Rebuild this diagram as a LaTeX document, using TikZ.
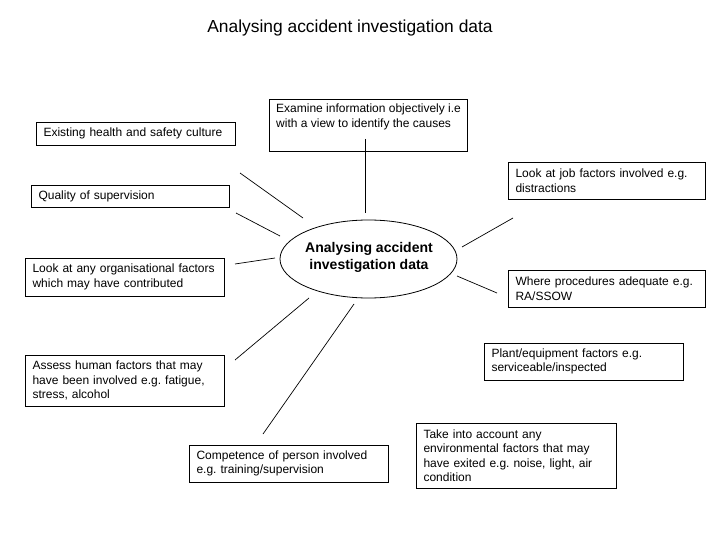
\documentclass[tikz,border=0pt]{standalone}
\usepackage{fontspec}
\setmainfont{Liberation Sans}
\usetikzlibrary{shapes.geometric}
\frenchspacing
\tikzset{
  infobox/.style n args={2}{draw=black, line width=0.8pt, rectangle, minimum width=#1pt, minimum height=#2pt,
    text width=#1pt-15pt, inner xsep=7.5pt, inner ysep=0pt, align=left,
    font=\fontsize{12}{14.5}\selectfont},
  conn/.style={draw=black, line width=0.7pt},
}
\begin{document}
\begin{tikzpicture}[x=1pt,y=-1pt]
\useasboundingbox[fill=white] (0,0) rectangle (720,540);

\node (title) at (350,28) {\fontsize{17.4}{20}\selectfont Analysing accident investigation data};

\node[draw=black, line width=0.8pt, ellipse, minimum width=177pt, minimum height=78pt, inner sep=0pt] (hub) at (368.5,259) {};
\node[align=center, font=\fontsize{14}{17}\selectfont\bfseries] (hubtext) at (369,257) {Analysing accident\\investigation data};

\node[infobox={199}{23}] (culture) at (135.5,133.5) {Existing health and safety culture};
\node[infobox={198}{52}] (examine) at (368,125) {};
\node[anchor=north west, inner sep=0pt, align=left, font=\fontsize{12}{14.5}\selectfont] (examinetext) at (276,104) {Examine information objectively i.e\\with a view to identify the causes};
\node[infobox={198}{22}] (quality) at (130,196) {Quality of supervision};
\node[infobox={199}{38}] (org) at (124.5,277) {Look at any organisational factors\\which may have contributed};
\node[infobox={197}{37}] (job) at (606.5,180.5) {Look at job factors involved e.g.\\distractions};
\node[infobox={197}{37}] (proc) at (606.5,288.5) {Where procedures adequate e.g.\\RA/SSOW};
\node[infobox={199}{37}] (plant) at (583.5,361.5) {Plant/equipment factors e.g.\\serviceable/inspected};
\node[infobox={199}{51}] (human) at (124.5,380.5) {Assess human factors that may\\have been involved e.g. fatigue,\\stress, alcohol};
\node[infobox={199}{37}] (comp) at (288.5,463.5) {Competence of person involved\\e.g. training/supervision};
\node[infobox={200}{65}] (env) at (516,455.5) {Take into account any\\environmental factors that may\\have exited e.g. noise, light, air\\condition};

\coordinate (a1) at (365,139); \coordinate (b1) at (365,213);
\coordinate (a2) at (240,173); \coordinate (b2) at (303,218);
\coordinate (a3) at (236,213); \coordinate (b3) at (280,236);
\coordinate (a4) at (235,264); \coordinate (b4) at (275,258);
\coordinate (a5) at (462,247); \coordinate (b5) at (513,218);
\coordinate (a6) at (457,276); \coordinate (b6) at (497,293);
\coordinate (a7) at (309,298); \coordinate (b7) at (235,360);
\coordinate (a8) at (354,304); \coordinate (b8) at (263,434);

\draw[conn] (a1) -- (b1);
\draw[conn] (a2) -- (b2);
\draw[conn] (a3) -- (b3);
\draw[conn] (a4) -- (b4);
\draw[conn] (a5) -- (b5);
\draw[conn] (a6) -- (b6);
\draw[conn] (a7) -- (b7);
\draw[conn] (a8) -- (b8);
\end{tikzpicture}
\end{document}
